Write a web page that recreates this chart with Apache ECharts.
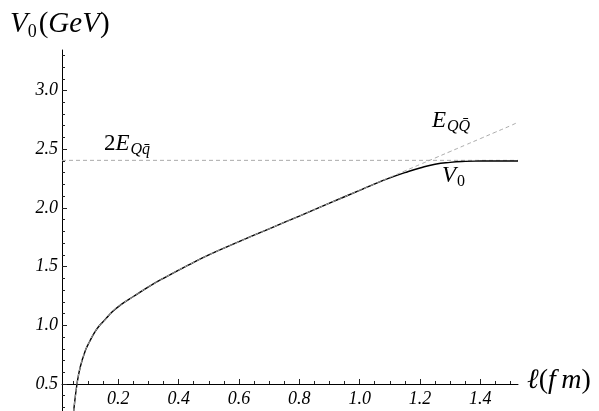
<!DOCTYPE html>
<html>
<head>
<meta charset="utf-8">
<script src="https://cdn.jsdelivr.net/npm/echarts@6/dist/echarts.min.js"></script>
<style>
  html, body { margin: 0; padding: 0; background: #fff; }
  #chart { width: 599px; height: 411px; }
</style>
</head>
<body>
<div id="chart"></div>
<script>
// ---- data ----
const lShared = [0.047, 0.052, 0.063, 0.074, 0.09, 0.105, 0.118, 0.135, 0.155, 0.18, 0.21, 0.25, 0.30, 0.36, 0.43, 0.5, 0.6, 0.7, 0.8, 0.9, 1.0];
const vShared = [0.14, 0.27, 0.50, 0.647, 0.78, 0.862, 0.925, 0.99, 1.045, 1.115, 1.178, 1.245, 1.328, 1.415, 1.51, 1.60, 1.712, 1.822, 1.93, 2.04, 2.15];
const lTail = [1.05, 1.1, 1.15, 1.2, 1.25, 1.3, 1.35, 1.4, 1.45, 1.5, 1.525];
const eTail = [2.205, 2.26, 2.315, 2.37, 2.425, 2.48, 2.535, 2.59, 2.645, 2.70, 2.73];
const v0Tail = [2.205, 2.255, 2.30, 2.34, 2.372, 2.388, 2.396, 2.399, 2.40, 2.40, 2.40];
const twoE = 2.405;

const xMajor = [0.2, 0.4, 0.6, 0.8, 1.0, 1.2, 1.4];
const xMinor = [0.05, 0.1, 0.15, 0.25, 0.3, 0.35, 0.45, 0.5, 0.55, 0.65, 0.7, 0.75, 0.85, 0.9, 0.95, 1.05, 1.1, 1.15, 1.25, 1.3, 1.35, 1.45, 1.5];
const yMajor = [0.5, 1.0, 1.5, 2.0, 2.5, 3.0];
const yMinor = [0.3, 0.4, 0.6, 0.7, 0.8, 0.9, 1.1, 1.2, 1.3, 1.4, 1.6, 1.7, 1.8, 1.9, 2.1, 2.2, 2.3, 2.4, 2.6, 2.7, 2.8, 2.9, 3.1, 3.2, 3.3];

const xMin = 0.0133, xMax = 1.525;
const yMin = 0.27, yMax = 3.345;
const xCross = 0.5; // x-axis drawn at V = 0.5

// ---- build ----
const zip = (a, b) => a.map((v, i) => [v, b[i]]);
const eData = zip(lShared, vShared).concat(zip(lTail, eTail));
const v0Data = zip(lShared, vShared).concat(zip(lTail, v0Tail));
const twoEData = [[xMin, twoE], [xMax, twoE]];

const FONT = "'Liberation Serif', 'DejaVu Serif', serif";
const gridTop = 50, gridBottom = 0, H = 411;
const gridH = H - gridTop - gridBottom;
const xOffset = -((xCross - yMin) / (yMax - yMin)) * gridH;

const chart = echarts.init(document.getElementById('chart'), null, { renderer: 'canvas' });

const lineCol = '#000';
const tickCol = '#222';
const dashCol = '#aaaaaa';

function fmt(v) { return v.toFixed(1); }

const option = {
  animation: false,
  backgroundColor: '#fff',
  grid: { left: 62, right: 81, top: gridTop, bottom: gridBottom },
  xAxis: [
    {
      type: 'value', min: xMin, max: xMax, offset: xOffset,
      axisLine: { onZero: false, lineStyle: { color: lineCol, width: 1 } },
      axisTick: { inside: true, length: 5, customValues: xMajor, lineStyle: { color: tickCol } },
      axisLabel: { customValues: xMajor, formatter: fmt, margin: 6, color: '#000',
        fontFamily: FONT, fontStyle: 'italic', fontSize: 18 },
      splitLine: { show: false }
    },
    {
      type: 'value', min: xMin, max: xMax, offset: xOffset, position: 'bottom',
      axisLine: { show: false, onZero: false },
      axisTick: { inside: true, length: 3, customValues: xMinor, lineStyle: { color: tickCol } },
      axisLabel: { show: false },
      splitLine: { show: false }
    }
  ],
  yAxis: [
    {
      type: 'value', min: yMin, max: yMax,
      axisLine: { show: true, onZero: false, lineStyle: { color: lineCol, width: 1 } },
      axisTick: { show: true, inside: true, length: 5, customValues: yMajor, lineStyle: { color: tickCol } },
      axisLabel: { customValues: yMajor, formatter: fmt, margin: 4, color: '#000',
        fontFamily: FONT, fontStyle: 'italic', fontSize: 18 },
      splitLine: { show: false }
    },
    {
      type: 'value', min: yMin, max: yMax, position: 'left',
      axisLine: { show: false, onZero: false },
      axisTick: { show: true, inside: true, length: 3, customValues: yMinor, lineStyle: { color: tickCol } },
      axisLabel: { show: false },
      splitLine: { show: false }
    }
  ],
  series: [
    {
      name: '2E', type: 'line', data: twoEData, showSymbol: false, symbol: 'none',
      lineStyle: { color: dashCol, width: 1, type: [4, 3] }, z: 2
    },
    {
      name: 'V0', type: 'line', data: v0Data, smooth: 0.5,
      showSymbol: false, symbol: 'none',
      lineStyle: { color: '#000', width: 1.4 }, z: 3
    },
    {
      name: 'E', type: 'line', data: eData, smooth: 0.5,
      showSymbol: false, symbol: 'none',
      lineStyle: { color: dashCol, width: 1, type: [4, 3] }, z: 4
    }
  ],
  graphic: [
    {
      type: 'text', left: 10, top: 10,
      style: {
        text: '{i|V}{s|0}{r|(}{i|GeV}{r|)}',
        rich: {
          i: { fontFamily: FONT, fontStyle: 'italic', fontSize: 29, fill: '#000', color: '#000' },
          r: { fontFamily: FONT, fontSize: 29, fill: '#000', color: '#000' },
          s: { fontFamily: FONT, fontSize: 18, padding: [15, 2, 0, 0], fill: '#000', color: '#000' }
        }
      }
    },
    {
      type: 'text', left: 527, top: 367,
      style: {
        text: '{i|\u2113}{r|(}{i|f\u2009m}{r|)}',
        rich: {
          i: { fontFamily: FONT, fontStyle: 'italic', fontSize: 28, fill: '#000', color: '#000' },
          r: { fontFamily: FONT, fontSize: 28, fill: '#000', color: '#000' }
        }
      }
    },
    {
      type: 'text', left: 104, top: 132,
      style: {
        text: '{r|2}{i|E}{si|Qq\u0304}',
        rich: {
          i: { fontFamily: FONT, fontStyle: 'italic', fontSize: 23, fill: '#000', color: '#000' },
          r: { fontFamily: FONT, fontSize: 23, fill: '#000', color: '#000' },
          si: { fontFamily: FONT, fontStyle: 'italic', fontSize: 16, padding: [12, 0, 0, 1], fill: '#000', color: '#000' }
        }
      }
    },
    {
      type: 'text', left: 432, top: 109,
      style: {
        text: '{i|E}{si|QQ\u0304}',
        rich: {
          i: { fontFamily: FONT, fontStyle: 'italic', fontSize: 23, fill: '#000', color: '#000' },
          si: { fontFamily: FONT, fontStyle: 'italic', fontSize: 16, padding: [12, 0, 0, 1], fill: '#000', color: '#000' }
        }
      }
    },
    {
      type: 'text', left: 442, top: 164,
      style: {
        text: '{i|V}{s|0}',
        rich: {
          i: { fontFamily: FONT, fontStyle: 'italic', fontSize: 23, fill: '#000', color: '#000' },
          s: { fontFamily: FONT, fontSize: 16, padding: [12, 0, 0, 1], fill: '#000', color: '#000' }
        }
      }
    }
  ]
};

chart.setOption(option);
</script>
</body>
</html>
